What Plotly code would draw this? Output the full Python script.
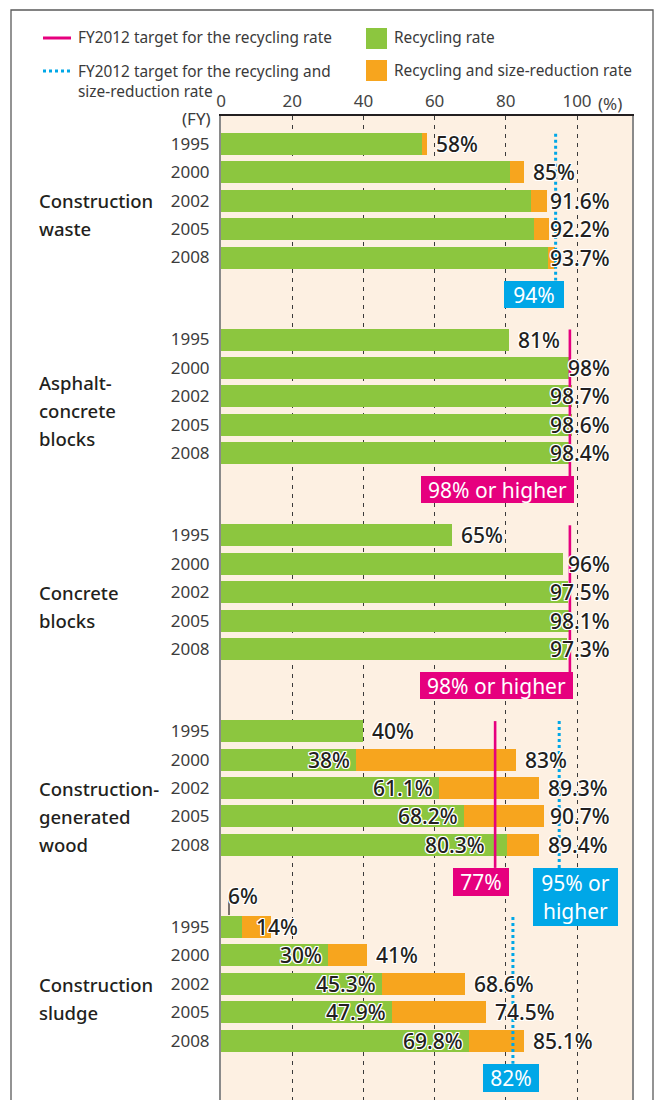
import plotly.graph_objects as go

# ---------------------------------------------------------------- data
years = ["1995", "2000", "2002", "2005", "2008"]
category_names = [
    "Construction<br>waste",
    "Asphalt-<br>concrete<br>blocks",
    "Concrete<br>blocks",
    "Construction-<br>generated<br>wood",
    "Construction<br>sludge",
]

# recycling rate (%) per fiscal year
waste_recycling = [56.5, 81.2, 87.1, 87.8, 91.8]
asphalt_recycling = [81, 98, 98.7, 98.6, 98.4]
concrete_recycling = [65, 96, 97.5, 98.1, 97.3]
wood_recycling = [40, 38, 61.1, 68.2, 80.3]
sludge_recycling = [6, 30, 45.3, 47.9, 69.8]

# recycling and size-reduction rate (%) per fiscal year
waste_combined = [58, 85, 91.6, 92.2, 93.7]
asphalt_combined = [None, None, None, None, None]
concrete_combined = [None, None, None, None, None]
wood_combined = [None, 83, 89.3, 90.7, 89.4]
sludge_combined = [14, 41, 68.6, 74.5, 85.1]

# FY2012 targets
recycling_targets = [None, 98, 98, 77, None]
combined_targets = [94, None, None, 95, 82]
recycling_target_suffix = ["", " or higher", " or higher", "", ""]
combined_target_suffix = ["", "", "", " or<br>higher", ""]

x_ticks = [0, 20, 40, 60, 80, 100]

recycling = [waste_recycling, asphalt_recycling, concrete_recycling,
             wood_recycling, sludge_recycling]
combined = [waste_combined, asphalt_combined, concrete_combined,
            wood_combined, sludge_combined]
# the recycling share of construction waste carries no printed value
show_recycling_value = [False, True, True, True, True]

# ---------------------------------------------------------------- layout
W, H = 657, 1100
PLOT_L, PLOT_R, PLOT_T = 221, 632, 116
PX_PER_PCT = 3.56
X_MAX = (PLOT_R - PLOT_L) / PX_PER_PCT

ROW0, PITCH, GROUP, BAR_H = 27.7, 28.45, 195.8, 22
LABEL_CAP = (612 - PLOT_L) / PX_PER_PCT   # right edge for long value labels

FONT = "Noto Sans"
INK = "#231f20"
GREEN, ORANGE = "#8cc63f", "#f7a51e"
MAGENTA, CYAN = "#e6007e", "#00a7e7"
PLOT_BG = "#fdf0e2"
HALO = ("1px 1px 0 #fff, -1px -1px 0 #fff, 1px -1px 0 #fff, -1px 1px 0 #fff, "
        "0 1px 0 #fff, 0 -1px 0 #fff, 1px 0 0 #fff, -1px 0 0 #fff")


def row_y(g, i):
    return ROW0 + g * GROUP + i * PITCH


def xp(px):
    return (px - PLOT_L) / (PLOT_R - PLOT_L)


def yp(py):
    return 1 - (py - PLOT_T) / (H - PLOT_T)


def pct(v):
    return f"{v:g}%"


value_font = dict(family=FONT, size=21, color=INK, shadow=HALO, weight=500)
box_font = dict(family=FONT, size=21, color="white")

fig = go.Figure()

# bars: full (recycling + size-reduction) length in orange, recycling in green on top
bar_y, bar_comb, bar_rec = [], [], []
for g in range(len(category_names)):
    for i in range(len(years)):
        bar_y.append(row_y(g, i))
        bar_comb.append(combined[g][i])
        bar_rec.append(recycling[g][i])

fig.add_trace(go.Bar(x=bar_comb, y=bar_y, orientation="h", width=BAR_H,
                     marker=dict(color=ORANGE, line_width=0),
                     hoverinfo="skip", showlegend=False))
fig.add_trace(go.Bar(x=bar_rec, y=bar_y, orientation="h", width=BAR_H,
                     marker=dict(color=GREEN, line_width=0),
                     hoverinfo="skip", showlegend=False))

annotations = []
shapes = []

# per-label nudges (px) where a value would collide with a neighbour
outer_shift = {(4, 0): -17}
inner_shift = {(3, 4): -20}

for g in range(len(category_names)):
    for i in range(len(years)):
        y = row_y(g, i)
        rec = recycling[g][i]
        comb = combined[g][i]
        outer = comb if comb is not None else rec
        # value at the end of the bar
        if outer >= 90:
            annotations.append(dict(x=LABEL_CAP, y=y, xref="x", yref="y",
                                    text=pct(outer), showarrow=False,
                                    xanchor="right", yanchor="middle",
                                    font=value_font))
        else:
            annotations.append(dict(x=outer, y=y, xref="x", yref="y",
                                    text=pct(outer), showarrow=False,
                                    xanchor="left", yanchor="middle",
                                    xshift=outer_shift.get((g, i), 7),
                                    font=value_font))
        # recycling value inside the bar
        if comb is not None and show_recycling_value[g]:
            if rec < 10:
                lead_x = 8 / PX_PER_PCT
                shapes.append(dict(type="line", xref="x", yref="y",
                                   x0=lead_x, x1=lead_x,
                                   y0=y - BAR_H / 2 - 1, y1=y - 27,
                                   line=dict(color=INK, width=1.2)))
                annotations.append(dict(x=0, y=y - 31, xref="x", yref="y",
                                        text=pct(rec), showarrow=False,
                                        xanchor="left", yanchor="middle",
                                        xshift=5, font=value_font))
            else:
                annotations.append(dict(x=rec, y=y, xref="x", yref="y",
                                        text=pct(rec), showarrow=False,
                                        xanchor="right", yanchor="middle",
                                        xshift=inner_shift.get((g, i), -4),
                                        font=value_font))

# target lines and their labels
target_box = {
    # (group, kind): (width, height, x offset of box centre from the line)
    (0, "comb"): (60, 27, -22),
    (1, "rec"): (153, 27, -72),
    (2, "rec"): (153, 27, -73),
    (3, "rec"): (56, 28, -14),
    (3, "comb"): (85, 58, 16),
    (4, "comb"): (56, 28, -2),
}

for g in range(len(category_names)):
    top = row_y(g, 0) - BAR_H / 2 + 1
    bottom = row_y(g, 4) + 23
    for kind, targets, suffix, color, dash, lw in (
        ("rec", recycling_targets, recycling_target_suffix, MAGENTA, "solid", 2.6),
        ("comb", combined_targets, combined_target_suffix, CYAN, "3px,3px", 3),
    ):
        t = targets[g]
        if t is None:
            continue
        fig.add_trace(go.Scatter(x=[t, t], y=[top, bottom], mode="lines",
                                 line=dict(color=color, width=lw, dash=dash),
                                 hoverinfo="skip", showlegend=False))
        bw, bh, dx = target_box[(g, kind)]
        annotations.append(dict(x=t, y=bottom + bh / 2, xref="x", yref="y",
                                text=pct(t) + suffix[g], showarrow=False,
                                xanchor="center", yanchor="middle", xshift=dx,
                                width=bw, height=bh, bgcolor=color,
                                borderpad=0, borderwidth=0, align="center",
                                valign="middle", font=box_font))

# category names at the left
label_row = [2.5, 2.5, 2.5, 3, 2.5]
for g, name in enumerate(category_names):
    lines = name.split("<br>")
    centre = row_y(g, label_row[g])
    for k, line in enumerate(lines):
        annotations.append(dict(x=xp(37), y=centre + (k - (len(lines) - 1) / 2) * 28,
                                xref="paper", yref="y", text=line, showarrow=False,
                                xanchor="left", yanchor="middle",
                                font=dict(family=FONT, size=18.5, color=INK,
                                          weight=500)))

# axis unit labels
annotations.append(dict(x=xp(213), y=yp(118), xref="paper", yref="paper",
                        text="(FY)", showarrow=False, xanchor="right",
                        yanchor="middle",
                        font=dict(family=FONT, size=17, color="#3c3c3c")))
annotations.append(dict(x=xp(596), y=yp(104), xref="paper", yref="paper",
                        text="(%)", showarrow=False, xanchor="left",
                        yanchor="middle",
                        font=dict(family=FONT, size=17, color="#444")))

# legend
legend_font = dict(family=FONT, size=15.4, color="#3a3a3a")
shapes.append(dict(type="line", xref="paper", yref="paper",
                   x0=xp(43), x1=xp(71), y0=yp(38), y1=yp(38),
                   line=dict(color=MAGENTA, width=3)))
shapes.append(dict(type="line", xref="paper", yref="paper",
                   x0=xp(43), x1=xp(70), y0=yp(71), y1=yp(71),
                   line=dict(color=CYAN, width=3, dash="3px,3px")))
shapes.append(dict(type="rect", xref="paper", yref="paper",
                   x0=xp(366), x1=xp(387), y0=yp(28), y1=yp(49),
                   line_width=0, fillcolor=GREEN))
shapes.append(dict(type="rect", xref="paper", yref="paper",
                   x0=xp(366), x1=xp(387), y0=yp(60), y1=yp(81),
                   line_width=0, fillcolor=ORANGE))
annotations.append(dict(x=xp(76), y=yp(38), xref="paper", yref="paper",
                        text="FY2012 target for the recycling rate",
                        showarrow=False, xanchor="left", yanchor="middle",
                        font=legend_font))
annotations.append(dict(x=xp(76), y=yp(81.5), xref="paper", yref="paper",
                        text="FY2012 target for the recycling and<br>size-reduction rate",
                        showarrow=False, xanchor="left", yanchor="middle",
                        align="left", font=legend_font))
annotations.append(dict(x=xp(392), y=yp(38), xref="paper", yref="paper",
                        text="Recycling rate", showarrow=False,
                        xanchor="left", yanchor="middle", font=legend_font))
annotations.append(dict(x=xp(392), y=yp(70), xref="paper", yref="paper",
                        text="Recycling and size-reduction rate",
                        showarrow=False, xanchor="left", yanchor="middle",
                        font=legend_font))

# outer frame
shapes.append(dict(type="rect", xref="paper", yref="paper",
                   x0=xp(11), x1=xp(653), y0=yp(10), y1=yp(H + 20),
                   line=dict(color="#5a5a5a", width=1.3), fillcolor="rgba(0,0,0,0)"))

fig.update_layout(
    width=W, height=H,
    margin=dict(l=PLOT_L, r=W - PLOT_R, t=PLOT_T, b=0, pad=0),
    paper_bgcolor="white", plot_bgcolor=PLOT_BG,
    barmode="overlay", bargap=0,
    showlegend=False,
    annotations=annotations, shapes=shapes,
    font=dict(family=FONT),
    xaxis=dict(range=[0, X_MAX], side="top", tickvals=x_ticks,
               ticktext=[str(v) for v in x_ticks], ticks="",
               tickfont=dict(family=FONT, size=17, color="#444"),
               showgrid=True, gridcolor="#3a3a3a", gridwidth=1,
               griddash="4px,5px", zeroline=False,
               showline=True, linecolor="#231f20", linewidth=1.5),
    yaxis=dict(range=[H - PLOT_T, 0], tickvals=bar_y,
               ticktext=years * len(category_names), ticks="",
               tickfont=dict(family=FONT, size=17, color="#3c3c3c"),
               ticklabelstandoff=6,
               showgrid=False, zeroline=False,
               showline=True, linecolor="#8a8a8a", linewidth=2, mirror=True),
)

fig.write_html("out.html")
